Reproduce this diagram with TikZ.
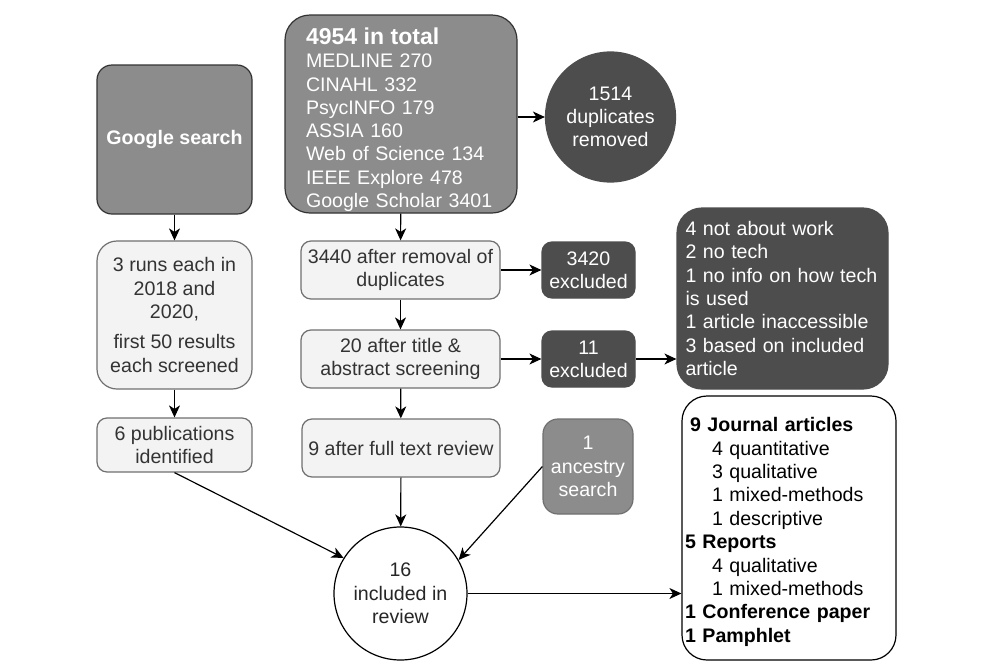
\documentclass[tikz,border=0pt]{standalone}
\usepackage{fontspec}
\setmainfont{Liberation Sans}
\usetikzlibrary{arrows.meta}
\definecolor{midgray}{HTML}{8C8C8C}
\definecolor{deepgray}{HTML}{4D4D4D}
\definecolor{lightfill}{HTML}{F3F3F3}
\definecolor{edgegray}{HTML}{707070}
\definecolor{inktext}{HTML}{333333}

\begin{document}
\begin{tikzpicture}[x=1pt,y=-1pt,
  font=\fontsize{19.6}{23.3}\selectfont,
  box/.style={draw, rectangle, align=center, inner sep=0pt, line width=1.2pt},
  lightbox/.style={box, fill=lightfill, draw=edgegray, text=inktext},
  darkbox/.style={box, fill=deepgray, draw=deepgray, text=white},
  midbox/.style={box, fill=midgray, draw=black!80, text=white},
  flow/.style={-{Stealth[length=12pt,width=11pt,inset=3.5pt]}, line width=1.2pt},
]
\useasboundingbox (0,0) rectangle (994,662);
\fill[white] (0,0) rectangle (994,662);

% left column: web search
\node[midbox, minimum width=155pt, minimum height=149pt, rounded corners=15pt,
      font=\fontsize{19.6}{23.3}\selectfont\bfseries] (google) at (174.5,139.5) {Google search};
\node[lightbox, minimum width=155pt, minimum height=148pt, rounded corners=20pt]
      (runs) at (174.5,315) {3 runs each in\\2018 and\\2020,\\[7pt]first 50 results\\each screened};
\node[lightbox, minimum width=155pt, minimum height=54pt, rounded corners=10pt]
      (pubs) at (174.5,445) {6 publications\\identified};

% middle column: databases
\node[midbox, minimum width=232pt, minimum height=198pt, rounded corners=25pt,
      align=left, text width=190pt] (db) at (401,114)
  {\rule{0pt}{28pt}{\fontsize{23}{26}\selectfont\bfseries 4954 in total}\\
   MEDLINE 270\\CINAHL 332\\PsycINFO 179\\ASSIA 160\\Web of Science 134\\
   IEEE Explore 478\\Google Scholar 3401};
\node[lightbox, minimum width=199pt, minimum height=58pt, rounded corners=10pt]
      (dedup) at (400.5,270) {3440 after removal of\\duplicates};
\node[lightbox, minimum width=199pt, minimum height=58pt, rounded corners=10pt]
      (screen) at (400.5,359) {20 after title \&\\abstract screening};
\node[lightbox, minimum width=198pt, minimum height=58pt, rounded corners=10pt]
      (fulltext) at (401,448) {9 after full text review};

% exclusions
\node[darkbox, circle, minimum size=130pt] (dupes) at (610.5,117) {1514\\duplicates\\removed};
\node[darkbox, minimum width=93pt, minimum height=56pt, rounded corners=10pt]
      (excla) at (588.5,270) {3420\\excluded};
\node[darkbox, minimum width=93pt, minimum height=56pt, rounded corners=10pt]
      (exclb) at (588.5,359) {11\\excluded};
\node[darkbox, minimum width=211pt, minimum height=181pt, rounded corners=25pt,
      align=left, text width=194pt] (reasons) at (782.5,298.5)
  {4 not about work\\2 no tech\\1 no info on how tech\\is used\\
   1 article inaccessible\\3 based on included\\article};
\node[midbox, draw=edgegray, minimum width=90pt, minimum height=95pt, rounded corners=15pt]
      (ancestry) at (588,466.5) {1\\ancestry\\search};

% result
\node[box, circle, draw=black, fill=white, text=black!85, minimum size=133pt]
      (included) at (400.5,593.5) {16\\included in\\review};
\node[box, draw=black, fill=white, text=black, minimum width=214pt, minimum height=264pt,
      rounded corners=25pt, align=left, text width=208pt,
      font=\fontsize{19.6}{23.4}\selectfont] (types) at (789,528)
  {\rule{0pt}{22pt}\hspace{5pt}\textbf{9 Journal articles}\\
   \hspace{27pt}4 quantitative\\
   \hspace{27pt}3 qualitative\\
   \hspace{27pt}1 mixed-methods\\
   \hspace{27pt}1 descriptive\\
   \textbf{5 Reports}\\
   \hspace{27pt}4 qualitative\\
   \hspace{27pt}1 mixed-methods\\
   \textbf{1 Conference paper}\\
   \textbf{1 Pamphlet}};

% connectors
\draw[flow] (google) -- (runs);
\draw[flow] (runs) -- (pubs);
\draw[flow] (db) -- (dedup);
\draw[flow] (db.east |- dupes.west) -- (dupes.west);
\draw[flow] (dedup) -- (excla);
\draw[flow] (dedup) -- (screen);
\draw[flow] (screen) -- (exclb);
\draw[flow] (exclb.east) -- (exclb.east -| reasons.west);
\draw[flow] (screen) -- (fulltext);
\draw[flow] (fulltext) -- (included);
\draw[flow] (pubs.south) -- (included.148);
\draw[flow] (ancestry.west) -- (included.30);
\draw[flow] (included.east) -- (included.east -| types.west);
\end{tikzpicture}
\end{document}
